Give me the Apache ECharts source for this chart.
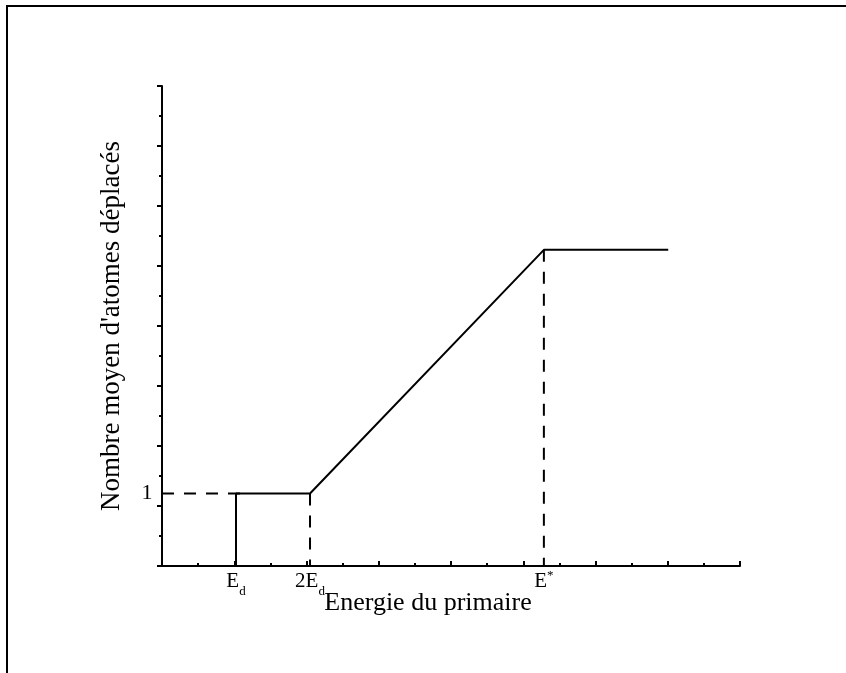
<!DOCTYPE html>
<html>
<head>
<meta charset="utf-8">
<script src="https://cdn.jsdelivr.net/npm/echarts@6/dist/echarts.min.js"></script>
<style>
  html, body { margin: 0; padding: 0; background: #fff; }
  #chart { width: 846px; height: 673px; }
</style>
</head>
<body>
<div id="chart"></div>
<script>
// Energy in units of the displacement threshold E_d, count in displaced atoms.
const energy = [1, 1, 2, 5.16, 6.84];          // E_d, E_d, 2E_d, E*, beyond
const displacedAtoms = [0, 1, 1, 4.36, 4.36];  // Kinchin-Pease model
const thresholdLevel = 1;                      // one displaced atom
const dashedLevelEnd = 1.12;                   // guide stops just past E_d
const twoEd = 2;
const eStar = 5.16;
const eStarPlateau = 4.36;

// Axis extents (8 major divisions each, one minor tick between)
const xAxisMax = 7.81;
const yAxisMax = 6.62;

const serif = '"Liberation Serif", "DejaVu Serif", serif';

const subLabel = (main, sub) => ({
  show: true,
  position: 'bottom',
  distance: 3,
  formatter: '{m|' + main + '}{s|' + sub + '}',
  rich: {
    m: { fontFamily: serif, fontSize: 21, color: '#000', lineHeight: 24 },
    s: { fontFamily: serif, fontSize: 13, color: '#000', lineHeight: 13, verticalAlign: 'bottom', padding: [0, 0, -5, 0] }
  }
});

const supLabel = (main, sup) => ({
  show: true,
  position: 'bottom',
  distance: 3,
  formatter: '{m|' + main + '}{s|' + sup + '}',
  rich: {
    m: { fontFamily: serif, fontSize: 21, color: '#000', lineHeight: 24 },
    s: { fontFamily: serif, fontSize: 13, color: '#000', lineHeight: 13, verticalAlign: 'top' }
  }
});

const curveData = energy.map((e, i) => [e, displacedAtoms[i]]);
// Bottom of the vertical step at E_d carries the E_d label
curveData[0] = { value: curveData[0], label: subLabel('E', 'd') };

const dashStyle = { color: '#000', width: 2, type: [12, 10] };
// Invisible point markers: only the lines and their labels are drawn
const hiddenSymbol = {
  symbol: 'circle',
  symbolSize: 1,
  showSymbol: true,
  showAllSymbol: true,
  itemStyle: { color: 'rgba(0,0,0,0)', borderWidth: 0 }
};

const option = {
  animation: false,
  backgroundColor: '#fff',
  grid: { left: 162, top: 86, width: 578, height: 480, containLabel: false },
  xAxis: {
    type: 'value',
    min: 0,
    max: xAxisMax,
    interval: xAxisMax / 8,
    name: 'Energie du primaire',
    nameLocation: 'middle',
    nameGap: 24,
    nameTextStyle: { fontFamily: serif, fontSize: 26, color: '#000', padding: [0, 46, 0, 0] },
    axisLine: { show: true, onZero: false, lineStyle: { color: '#000', width: 2 } },
    axisTick: { show: true, inside: true, length: 5, lineStyle: { color: '#000', width: 2 } },
    minorTick: { show: true, splitNumber: 2, length: 3, lineStyle: { color: '#000', width: 2 } },
    axisLabel: { show: false },
    splitLine: { show: false },
    minorSplitLine: { show: false }
  },
  yAxis: {
    type: 'value',
    min: 0,
    max: yAxisMax,
    interval: yAxisMax / 8,
    name: "Nombre moyen d'atomes déplacés",
    nameLocation: 'middle',
    nameGap: 37,
    nameTextStyle: { fontFamily: serif, fontSize: 27, color: '#000' },
    axisLine: { show: true, onZero: false, lineStyle: { color: '#000', width: 2 } },
    axisTick: { show: true, inside: false, length: 5, lineStyle: { color: '#000', width: 2 } },
    minorTick: { show: true, splitNumber: 2, length: 3, lineStyle: { color: '#000', width: 2 } },
    axisLabel: { show: false },
    splitLine: { show: false },
    minorSplitLine: { show: false }
  },
  series: [
    Object.assign({
      name: 'moyenne',
      type: 'line',
      data: curveData,
      lineStyle: { color: '#000', width: 2 },
      z: 3
    }, hiddenSymbol),
    Object.assign({
      name: 'seuil',
      type: 'line',
      data: [
        {
          value: [0, thresholdLevel],
          label: {
            show: true,
            position: 'left',
            distance: 9,
            formatter: String(thresholdLevel),
            fontFamily: serif,
            fontSize: 22,
            color: '#000'
          }
        },
        [dashedLevelEnd, thresholdLevel]
      ],
      lineStyle: dashStyle
    }, hiddenSymbol),
    Object.assign({
      name: '2Ed',
      type: 'line',
      data: [
        [twoEd, thresholdLevel],
        { value: [twoEd, 0], label: subLabel('2E', 'd') }
      ],
      lineStyle: dashStyle
    }, hiddenSymbol),
    Object.assign({
      name: 'Estar',
      type: 'line',
      data: [
        [eStar, eStarPlateau],
        { value: [eStar, 0], label: supLabel('E', '*') }
      ],
      lineStyle: dashStyle
    }, hiddenSymbol)
  ],
  graphic: [
    {
      type: 'rect',
      shape: { x: 7, y: 6, width: 900, height: 800 },
      style: { fill: 'none', stroke: '#000', lineWidth: 2 },
      silent: true
    }
  ]
};

const chart = echarts.init(document.getElementById('chart'), null, { renderer: 'canvas' });
chart.setOption(option);
</script>
</body>
</html>
